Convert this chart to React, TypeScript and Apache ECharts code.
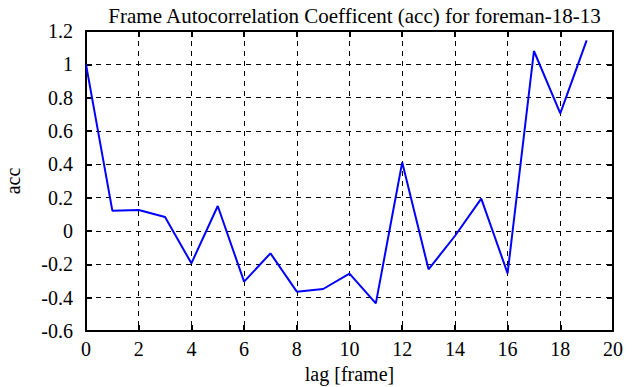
import React, { useEffect, useRef } from "react";
import * as echarts from "echarts";

const lags = [0, 1, 2, 3, 4, 5, 6, 7, 8, 9, 10, 11, 12, 13, 14, 15, 16, 17, 18, 19];
const acc = [1.0, 0.122, 0.126, 0.084, -0.194, 0.15, -0.304, -0.134, -0.364, -0.348, -0.256, -0.434, 0.412, -0.23, -0.03, 0.194, -0.254, 1.08, 0.706, 1.144];
const titleText = "Frame Autocorrelation Coefficent (acc) for foreman-18-13";
const xName = "lag [frame]";
const yName = "acc";

const FONT = "Liberation Serif";

export default function App() {
  const ref = useRef<HTMLDivElement>(null);
  useEffect(() => {
    if (!ref.current) return;
    const chart = echarts.init(ref.current, null, { renderer: "svg" });
    const axisLine = { show: true, onZero: false, lineStyle: { color: "#000", width: 2 } };
    const tick = { show: true, inside: true, length: 6, lineStyle: { color: "#000", width: 2 } };
    const split = { show: true, lineStyle: { color: "#000", width: 1, type: [5, 5] as any } };
    const label = { color: "#000", fontFamily: FONT, fontSize: 20 };
    chart.setOption({
      animation: false,
      backgroundColor: "#fff",
      title: {
        text: titleText,
        left: 349.5,
        textAlign: "center",
        top: 0,
        textStyle: { fontFamily: FONT, fontSize: 21, fontWeight: "normal", color: "#000" },
      },
      grid: { left: 86, right: 28, top: 31, bottom: 56, containLabel: false, outerBoundsMode: "none" },
      xAxis: [
        {
          type: "value", min: 0, max: 20, interval: 2, position: "bottom",
          axisLine, axisTick: tick, splitLine: split,
          axisLabel: { ...label, margin: 8 },
          name: xName, nameLocation: "middle", nameGap: 28,
          nameTextStyle: { fontFamily: FONT, fontSize: 20, color: "#000" },
        },
        {
          type: "value", min: 0, max: 20, interval: 2, position: "top",
          axisLine, axisTick: tick, splitLine: { show: false }, axisLabel: { show: false },
        },
      ],
      yAxis: [
        {
          type: "value", min: -0.6, max: 1.2, interval: 0.2, position: "left",
          axisLine, axisTick: tick, splitLine: split,
          axisLabel: { ...label, margin: 13, formatter: (v: number) => String(Math.round(v * 10) / 10) },
          name: yName, nameLocation: "middle", nameGap: 63,
          nameTextStyle: { fontFamily: FONT, fontSize: 20, color: "#000" },
        },
        {
          type: "value", min: -0.6, max: 1.2, interval: 0.2, position: "right",
          axisLine, axisTick: tick, splitLine: { show: false }, axisLabel: { show: false },
        },
      ],
      series: [
        {
          type: "line",
          data: lags.map((l, i) => [l, acc[i]]),
          xAxisIndex: 0, yAxisIndex: 0,
          showSymbol: false, symbol: "none",
          lineStyle: { color: "#0000ff", width: 2 },
        },
      ],
    });
    return () => chart.dispose();
  }, []);
  return <div ref={ref} style={{ width: 641, height: 387, position: "absolute", left: 0, top: 0 }} />;
}
